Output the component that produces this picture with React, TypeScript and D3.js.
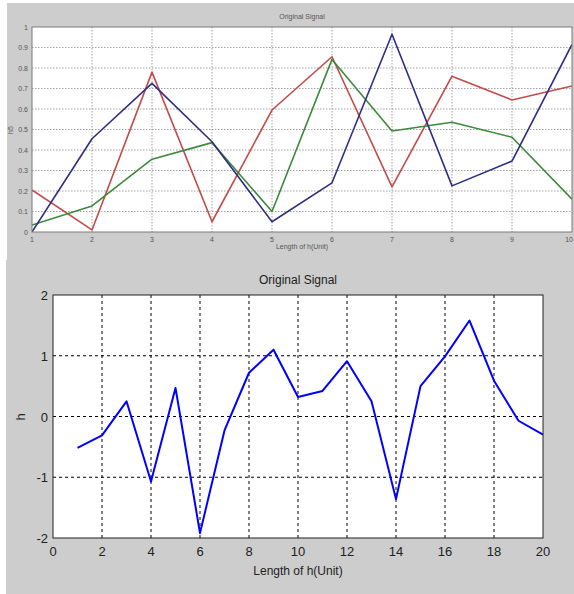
import React from "react";
import * as d3 from "d3";

// top panel: four signals over 10 samples
const topX = [1, 2, 3, 4, 5, 6, 7, 8, 9, 10];
const redVals = [0.205, 0.01, 0.78, 0.05, 0.595, 0.855, 0.22, 0.76, 0.644, 0.712];
const navyVals = [0.0, 0.455, 0.725, 0.44, 0.05, 0.24, 0.965, 0.225, 0.346, 0.915];
const greenVals = [0.034, 0.127, 0.355, 0.436, 0.1, 0.842, 0.493, 0.535, 0.462, 0.16];
const topYTicks = [0, 0.1, 0.2, 0.3, 0.4, 0.5, 0.6, 0.7, 0.8, 0.9, 1];

// bottom panel: one signal over 20 samples
const botX = d3.range(1, 21);
const hVals = [
  -0.516, -0.31, 0.25, -1.07, 0.47, -1.92, -0.23, 0.72, 1.1, 0.32,
  0.42, 0.91, 0.25, -1.36, 0.5, 0.99, 1.58, 0.59, -0.07, -0.3,
];
const botXTicks = [0, 2, 4, 6, 8, 10, 12, 14, 16, 18, 20];
const botYTicks = [-2, -1, 0, 1, 2];

const font = "'Liberation Sans', Arial, sans-serif";

const App = () => {
  // top plot area
  const tx = d3.scaleLinear().domain([1, 10]).range([32, 572]);
  const ty = d3.scaleLinear().domain([0, 1]).range([232, 27]);
  const topLine = d3
    .line<number>()
    .x((d, i) => tx(topX[i]))
    .y((d) => ty(d));

  const series = [
    { vals: redVals, color: "#c44a4a" },
    { vals: greenVals, color: "#3b8a3b" },
    { vals: navyVals, color: "#2e2e82" },
  ];

  // bottom plot area
  const bx = d3.scaleLinear().domain([0, 20]).range([53, 543]);
  const by = d3.scaleLinear().domain([-2, 2]).range([538, 295]);
  const botLine = d3
    .line<number>()
    .x((d, i) => bx(botX[i]))
    .y((d) => by(d));

  return (
    <svg
      width={574}
      height={594}
      style={{ position: "absolute", left: 0, top: 0, background: "#fff" }}
    >
      {/* top figure */}
      <rect x={7} y={3} width={567} height={257} fill="#cdcdcd" />
      <rect x={32} y={27} width={540} height={205} fill="#fff" />
      <g stroke="#8a8a8a" strokeWidth={0.8} strokeDasharray="1.5,1.5">
        {topX.slice(1, -1).map((v) => (
          <line key={"tgx" + v} x1={tx(v)} x2={tx(v)} y1={27} y2={232} />
        ))}
        {topYTicks.slice(1, -1).map((v) => (
          <line key={"tgy" + v} x1={32} x2={572} y1={ty(v)} y2={ty(v)} />
        ))}
      </g>
      <clipPath id="topClip">
        <rect x={32} y={27} width={540} height={205} />
      </clipPath>
      <g clipPath="url(#topClip)" fill="none" strokeLinejoin="round">
        {series.map((s, i) => (
          <path key={i} d={topLine(s.vals) || ""} stroke={s.color} strokeWidth={1.6} />
        ))}
      </g>
      <rect x={32} y={27} width={540} height={205} fill="none" stroke="#7a7a7a" strokeWidth={1} />
      <g fontFamily={font} fontSize={7} fill="#555">
        {topYTicks.map((v) => (
          <text key={"tyl" + v} x={28} y={ty(v) + 2.5} textAnchor="end">
            {d3.format("~g")(v)}
          </text>
        ))}
        {topX.map((v, i) => (
          <text
            key={"txl" + v}
            x={i === topX.length - 1 ? 573 : tx(v)}
            y={242}
            textAnchor={i === topX.length - 1 ? "end" : "middle"}
          >
            {v}
          </text>
        ))}
        <text x={302} y={19} textAnchor="middle">Original Signal</text>
        <text x={302} y={249} textAnchor="middle">Length of h(Unit)</text>
        <text transform="translate(13,130) rotate(-90)" textAnchor="middle">h5</text>
      </g>

      {/* bottom figure */}
      <rect x={6} y={260} width={568} height={334} fill="#cdcdcd" />
      <rect x={53} y={295} width={490} height={243} fill="#fff" />
      <g stroke="#000" strokeWidth={1} strokeDasharray="3,3">
        {botXTicks.slice(1, -1).map((v) => (
          <line key={"bgx" + v} x1={bx(v)} x2={bx(v)} y1={295} y2={538} />
        ))}
        {botYTicks.slice(1, -1).map((v) => (
          <line key={"bgy" + v} x1={53} x2={543} y1={by(v)} y2={by(v)} />
        ))}
      </g>
      <path
        d={botLine(hVals) || ""}
        fill="none"
        stroke="#0000ff"
        strokeWidth={2}
        strokeLinejoin="round"
      />
      <rect x={53} y={295} width={490} height={243} fill="none" stroke="#222" strokeWidth={1} />
      <g fontFamily={font} fontSize={13} fill="#222">
        {botYTicks.map((v) => (
          <text key={"byl" + v} x={48} y={by(v) + 5} textAnchor="end">
            {v}
          </text>
        ))}
        {botXTicks.map((v) => (
          <text key={"bxl" + v} x={bx(v)} y={556} textAnchor="middle">
            {v}
          </text>
        ))}
        <text x={298} y={284} textAnchor="middle" fontSize={12}>Original Signal</text>
        <text x={298} y={575} textAnchor="middle" fontSize={12}>Length of h(Unit)</text>
        <text transform="translate(25,417) rotate(-90)" textAnchor="middle" fontSize={13}>h</text>
      </g>
    </svg>
  );
};

export default App;
